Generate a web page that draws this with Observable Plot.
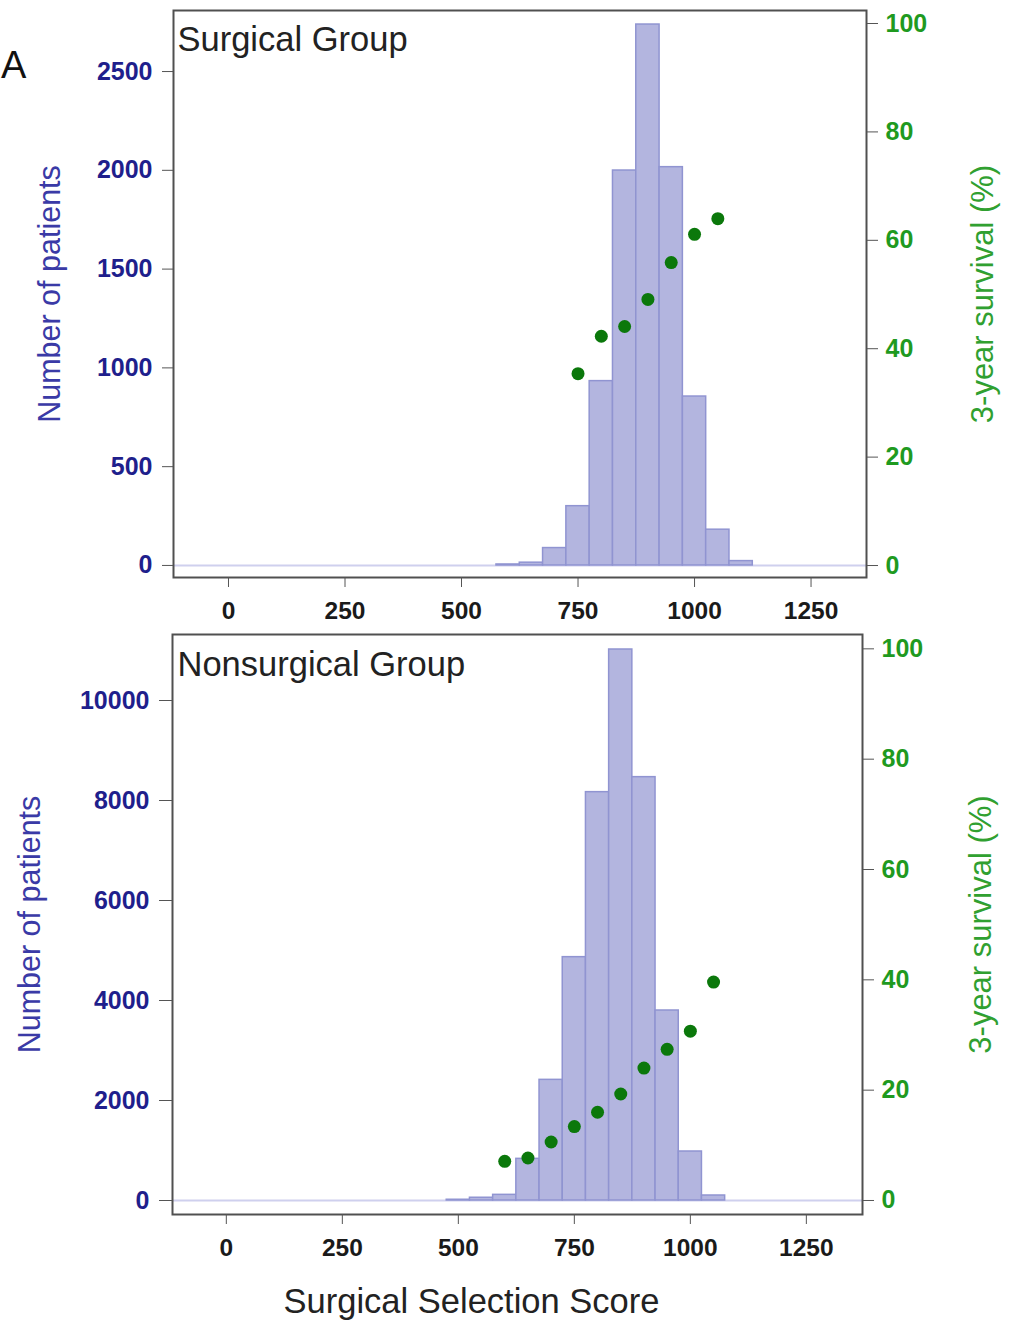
<!DOCTYPE html>
<html><head><meta charset="utf-8">
<script src="https://cdn.jsdelivr.net/npm/d3@7"></script>
<script src="https://cdn.jsdelivr.net/npm/@observablehq/plot@0.6"></script>
<style>
body{margin:0;background:#fff;font-family:"Liberation Sans",Arial,sans-serif;}
#wrap{position:relative;width:1015px;height:1325px;overflow:hidden;background:#fff;}
.layer{position:absolute;left:0;}
#letterA{position:absolute;left:1px;top:44px;font-size:38px;color:#111;font-family:"Liberation Sans",Arial,sans-serif;}
</style></head><body><div id="wrap"><div id="letterA">A</div></div>
<script>
// ---- data ----
const xTicks = [0, 250, 500, 750, 1000, 1250];
const survTicks = [0, 20, 40, 60, 80, 100];
const surgCountTicks = [0, 500, 1000, 1500, 2000, 2500];
const nonsurgCountTicks = [0, 2000, 4000, 6000, 8000, 10000];
const binWidth = 50;

const surgBins = [600, 650, 700, 750, 800, 850, 900, 950, 1000, 1050, 1100];
const surgCounts = [5, 14, 88, 300, 933, 1999, 2738, 2016, 855, 181, 22];
const surgSurvX = [750, 800, 850, 900, 950, 1000, 1050];
const surgSurv = [35.4, 42.3, 44.1, 49.1, 55.9, 61.1, 64.0];

const nonsurgBins = [500, 550, 600, 650, 700, 750, 800, 850, 900, 950, 1000, 1050];
const nonsurgCounts = [15, 55, 113, 833, 2413, 4867, 8167, 11020, 8467, 3800, 980, 100];
const nonsurgSurvX = [600, 650, 700, 750, 800, 850, 900, 950, 1000, 1050];
const nonsurgSurv = [7.1, 7.7, 10.6, 13.4, 16.0, 19.3, 24.0, 27.4, 30.7, 39.6];

const titles = ["Surgical Group", "Nonsurgical Group"];
const yLabel = "Number of patients";
const sLabel = "3-year survival (%)";
const xLabel = "Surgical Selection Score";

// ---- styles ----
const FONT = "'Liberation Sans', Arial, sans-serif";
const BLUE = "#1f1f8c";
const BLUE_LABEL = "#3a3aa6";
const GREEN = "#1f9a1f";
const GREEN_LABEL = "#30a030";
const DOT = "#0b780b";
const BAR_FILL = "#b3b5df";
const BAR_STROKE = "#9094d1";

const wrap = document.getElementById("wrap");

function panel(o) {
  const bars = o.bins.map((b, i) => ({x1: b - binWidth / 2, x2: b + binWidth / 2, count: o.counts[i]}));
  const pts = o.survX.map((x, i) => ({x, s: o.surv[i]}));
  const common = {
    width: 1015, height: o.height,
    marginTop: o.mt, marginBottom: o.mb, marginLeft: o.ml, marginRight: o.mr,
    style: {fontFamily: FONT, background: "transparent", overflow: "visible"}
  };
  const marks = [
    Plot.ruleY([0], {stroke: "#cfd0ee", strokeWidth: 2}),
    Plot.rectY(bars, {x1: "x1", x2: "x2", y: "count", fill: BAR_FILL, stroke: BAR_STROKE, strokeWidth: 1.5}),
    Plot.frame({stroke: "#505050", strokeWidth: 2}),
    Plot.axisY(o.countTicks, {anchor: "left", tickSize: o.lts, tickPadding: 10, tickFormat: d3.format("d"),
      stroke: "#555", fill: BLUE, fontSize: 25, fontWeight: "bold", label: null}),
    Plot.axisX(xTicks, {anchor: "bottom", tickSize: 10, tickPadding: 14, tickFormat: d3.format("d"),
      stroke: "#555", fill: "#1a1a1a", fontSize: 24.5, fontWeight: "bold", label: null}),
    Plot.text([o.title], {frameAnchor: "top-left", dx: o.tdx, dy: o.tdy, textAnchor: "start", lineAnchor: "top",
      fontSize: 34.5, fill: "#222"}),
    Plot.text([yLabel], {frameAnchor: "left", rotate: -90, dx: o.ylx, textAnchor: "middle", lineAnchor: "middle",
      fontSize: 30.5, fill: BLUE_LABEL})
  ];
  if (o.xLabel) {
    marks.push(Plot.text([o.xLabel], {frameAnchor: "bottom", dx: o.xlx, dy: o.xly, textAnchor: "middle", lineAnchor: "top",
      fontSize: 34.5, fill: "#222"}));
  }
  const p1 = Plot.plot({
    ...common,
    x: {domain: o.xDomain},
    y: {domain: o.yDomain},
    marks
  });
  const p2 = Plot.plot({
    ...common,
    x: {domain: o.xDomain, axis: null},
    y: {domain: o.sDomain},
    marks: [
      Plot.dot(pts, {x: "x", y: "s", r: 6.5, fill: DOT, stroke: "none"}),
      Plot.axisY(survTicks, {anchor: "right", tickSize: 11, tickPadding: 8, tickFormat: d3.format("d"),
        stroke: "#555", fill: GREEN, fontSize: 25, fontWeight: "bold", label: null}),
      Plot.text([sLabel], {frameAnchor: "right", rotate: -90, dx: o.slx, textAnchor: "middle", lineAnchor: "middle",
        fontSize: 31, fill: GREEN_LABEL})
    ]
  });
  for (const p of [p1, p2]) {
    p.classList.add("layer");
    p.style.top = o.top + "px";
    wrap.appendChild(p);
  }
}

panel({
  top: 0, height: 625, mt: 10, mb: 48, ml: 173, mr: 149,
  xDomain: [-118, 1369], yDomain: [-61, 2809], sDomain: [-2.21, 102.4],
  countTicks: surgCountTicks, bins: surgBins, counts: surgCounts,
  survX: surgSurvX, surv: surgSurv, title: titles[0],
  tdx: 4, tdy: 16, ylx: -123, slx: 117, lts: 11
});
panel({
  top: 625, height: 700, mt: 9, mb: 111, ml: 172, mr: 153,
  xDomain: [-116, 1371], yDomain: [-280, 11320], sDomain: [-2.54, 102.6],
  countTicks: nonsurgCountTicks, bins: nonsurgBins, counts: nonsurgCounts,
  survX: nonsurgSurvX, surv: nonsurgSurv, title: titles[1],
  tdx: 5, tdy: 17, ylx: -142, slx: 119, lts: 13,
  xLabel: xLabel, xlx: -46, xly: 74
});
</script>
</body></html>
